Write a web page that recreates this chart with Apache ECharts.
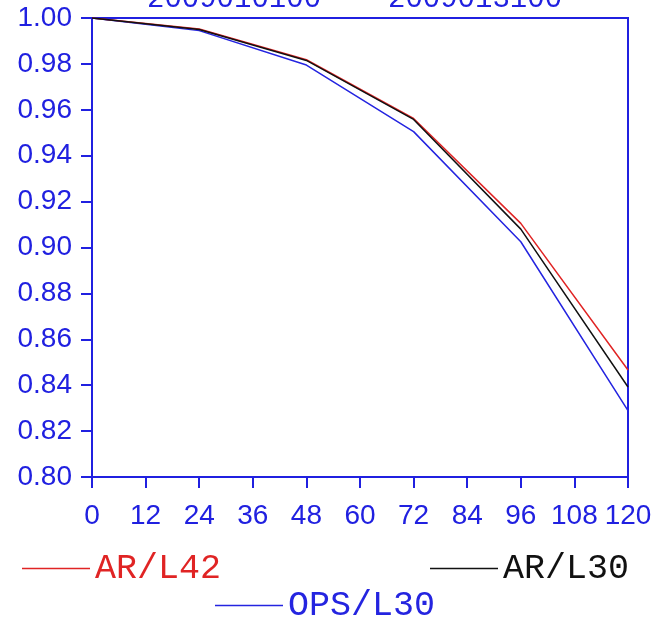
<!DOCTYPE html>
<html>
<head>
<meta charset="utf-8">
<script src="https://cdn.jsdelivr.net/npm/echarts@6/dist/echarts.min.js"></script>
<style>html,body{margin:0;padding:0;background:#fff}#c{width:655px;height:624px}</style>
</head>
<body>
<div id="c"></div>
<script>
var hours = [0, 24, 48, 72, 96, 120];
var arL42 = [1.0, 0.9952, 0.9818, 0.9562, 0.9105, 0.8466];
var arL30 = [1.0, 0.9950, 0.9815, 0.9558, 0.9080, 0.8392];
var opsL30 = [1.0, 0.9945, 0.9795, 0.9505, 0.9025, 0.8289];
var titleLeft = '2009010100';
var titleRight = '2009013100';

var AX = '#2020e0';
var RED = '#e02424';
var BLK = '#111111';
var BLU = '#2424e0';
var numFont = "'Liberation Sans', Arial, sans-serif";
var legFont = "'Liberation Mono', 'Courier New', monospace";

function pairs(v) { return hours.map(function (h, i) { return [h, v[i]]; }); }

var chart = echarts.init(document.getElementById('c'));
chart.setOption({
  animation: false,
  grid: { left: 92, right: 27, top: 18, bottom: 147, show: true, borderColor: AX, borderWidth: 2, backgroundColor: 'transparent' },
  xAxis: {
    type: 'value', min: 0, max: 120, interval: 12,
    axisLine: { show: true, lineStyle: { color: AX, width: 2 } },
    axisTick: { show: true, length: 11, inside: false, lineStyle: { color: AX, width: 2 } },
    axisLabel: { color: AX, fontFamily: numFont, fontSize: 28, margin: 25 },
    splitLine: { show: false }
  },
  yAxis: {
    type: 'value', min: 0.8, max: 1.0, interval: 0.02,
    axisLine: { show: true, lineStyle: { color: AX, width: 2 } },
    axisTick: { show: true, length: 11, inside: false, lineStyle: { color: AX, width: 2 } },
    axisLabel: { color: AX, fontFamily: numFont, fontSize: 28, margin: 20, formatter: function (v) { return v.toFixed(2); } },
    splitLine: { show: false }
  },
  legend: [
    { data: ['AR/L42'], left: 22, top: 551, padding: 0, icon: 'rect', itemWidth: 68, itemHeight: 1.5, itemGap: 0,
      textStyle: { color: RED, fontFamily: legFont, fontSize: 35 }, selectedMode: false },
    { data: ['AR/L30'], left: 430, top: 551, padding: 0, icon: 'rect', itemWidth: 68, itemHeight: 1.5, itemGap: 0,
      textStyle: { color: BLK, fontFamily: legFont, fontSize: 35 }, selectedMode: false },
    { data: ['OPS/L30'], left: 215, top: 588, padding: 0, icon: 'rect', itemWidth: 68, itemHeight: 1.5, itemGap: 0,
      textStyle: { color: BLU, fontFamily: legFont, fontSize: 35 }, selectedMode: false }
  ],
  graphic: [
    { type: 'text', left: 147, top: -15, silent: true, style: { text: titleLeft, fill: AX, font: "29px " + legFont } },
    { type: 'text', left: 388, top: -15, silent: true, style: { text: titleRight, fill: AX, font: "29px " + legFont } }
  ],
  series: [
    { name: 'OPS/L30', type: 'line', data: pairs(opsL30), symbol: 'none', lineStyle: { color: BLU, width: 1.5 }, itemStyle: { color: BLU } },
    { name: 'AR/L42', type: 'line', data: pairs(arL42), symbol: 'none', lineStyle: { color: RED, width: 1.5 }, itemStyle: { color: RED } },
    { name: 'AR/L30', type: 'line', data: pairs(arL30), symbol: 'none', lineStyle: { color: BLK, width: 1.5 }, itemStyle: { color: BLK } }
  ]
});
</script>
</body>
</html>
